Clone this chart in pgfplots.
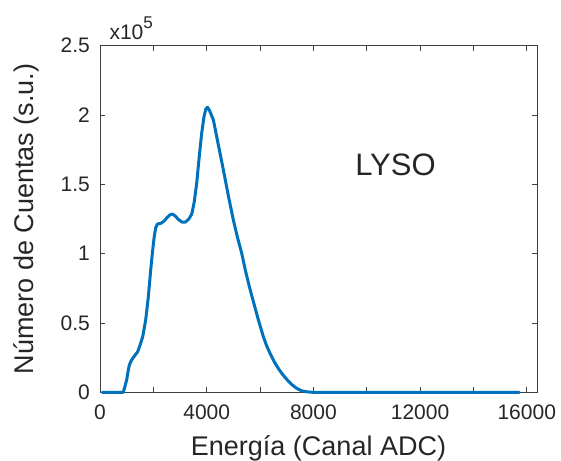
\documentclass[border=0pt]{standalone}
\usepackage{fontspec}
\setmainfont{Liberation Sans}
\usepackage{pgfplots}
\pgfplotsset{compat=1.18}
\definecolor{mblue}{HTML}{0072BD}
\definecolor{axgrey}{HTML}{404040}
\definecolor{txt}{HTML}{262626}

\pgfplotstableread{
x y
80 0
400 0
870 0
930 0.04
1000 0.09
1050 0.15
1100 0.197
1160 0.225
1225 0.245
1320 0.27
1412 0.293
1500 0.34
1600 0.401
1712 0.522
1812 0.690
1900 0.882
1960 1.00
2030 1.12
2090 1.19
2160 1.215
2280 1.219
2400 1.235
2520 1.262
2620 1.280
2720 1.286
2820 1.272
2950 1.245
3080 1.228
3200 1.228
3330 1.250
3438 1.285
3530 1.37
3625 1.508
3720 1.70
3812 1.869
3900 1.99
3970 2.045
4030 2.056
4100 2.035
4250 1.965
4400 1.82
4625 1.604
4820 1.41
4999 1.243
5150 1.12
5313 1.003
5450 0.88
5600 0.762
5770 0.64
5938 0.522
6125 0.401
6250 0.335
6375 0.281
6550 0.215
6725 0.161
6875 0.122
7025 0.089
7200 0.055
7375 0.029
7550 0.012
7750 0.004
8000 0
15715 0
}\spectrum

\begin{document}
\begin{tikzpicture}
\begin{axis}[
  scale only axis, width=436.9pt, height=346.6pt,
  xmin=0, xmax=16384, ymin=0, ymax=2.5,
  axis line style={axgrey, line width=0.8pt},
  every tick/.style={axgrey, line width=0.8pt},
  tick align=inside, major tick length=5pt,
  xtick={0,2000,...,16000},
  xticklabels={0,,4000,,8000,,12000,,16000},
  ytick={0,0.5,1,1.5,2,2.5},
  yticklabels={0,0.5,1,1.5,2,2.5},
  scaled x ticks=false, scaled y ticks=false,
  /pgf/number format/assume math mode=true,
  tick label style={font=\fontsize{21}{25}\selectfont, text=txt},
  xticklabel style={anchor=north, inner sep=0pt, yshift=-12.7pt},
  yticklabel style={anchor=east, inner sep=0pt, xshift=-10pt},
  xlabel={Energía (Canal ADC)},
  ylabel={Número de Cuentas (s.u.)},
  label style={font=\fontsize{27}{30}\selectfont, text=txt},
  xlabel style={at={(axis description cs:0.5,0)}, anchor=base, yshift=-62.7pt, inner sep=0pt},
  ylabel style={at={([xshift=-66.7pt]axis description cs:0,0.5)}, anchor=base, inner sep=0pt},
  clip=false,
]
\addplot[mblue, line width=3pt, line join=round, line cap=round] table[x=x, y=y] {\spectrum};
\node[anchor=base west, inner sep=0pt, text=txt, font=\fontsize{31}{34}\selectfont] at (axis cs:9562,1.567) {LYSO};
\node[anchor=base west, inner sep=0pt, text=txt, font=\fontsize{21}{25}\selectfont]
  at ([xshift=9.3pt, yshift=6.4pt]rel axis cs:0,1) {x10\raisebox{11pt}{\fontsize{17}{17}\selectfont 5}};
\useasboundingbox ([xshift=-100pt, yshift=-66.7pt]rel axis cs:0,0) rectangle ([xshift=24pt, yshift=45.7pt]rel axis cs:1,1);
\end{axis}
\end{tikzpicture}
\end{document}
